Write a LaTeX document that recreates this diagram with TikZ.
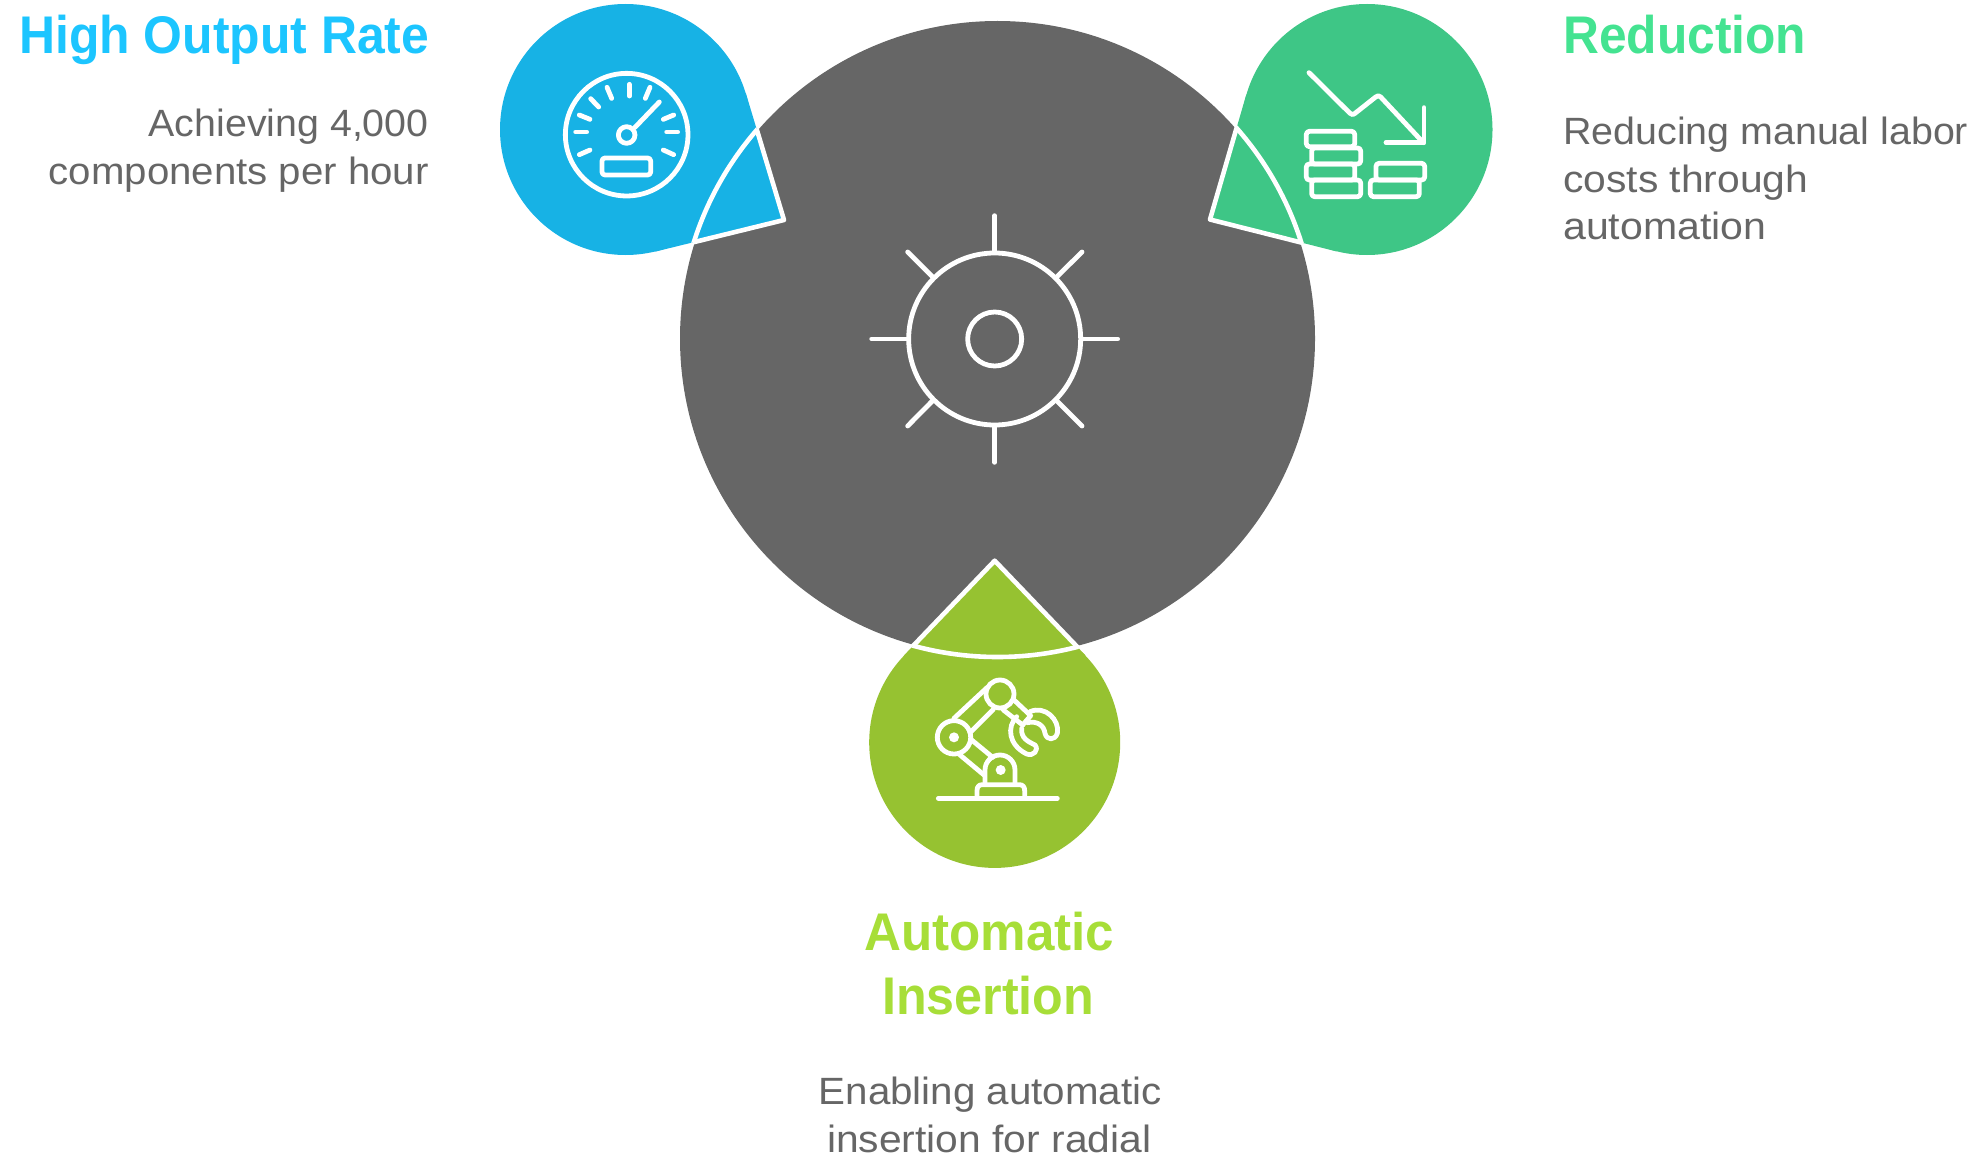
\documentclass[tikz,border=0pt]{standalone}
\usepackage{fontspec}
\usepackage{graphicx}
\setmainfont{Liberation Sans}
\usetikzlibrary{calc}
\definecolor{coreGray}{HTML}{666666}
\definecolor{fillBlue}{HTML}{17B2E5}
\definecolor{fillGreen}{HTML}{3EC686}
\definecolor{fillLime}{HTML}{96C231}
\definecolor{headBlue}{HTML}{1CC5FF}
\definecolor{headGreen}{HTML}{44E391}
\definecolor{headLime}{HTML}{A7DE38}
\newcommand{\fitw}[2]{\resizebox{#1pt}{\height}{#2}}
\tikzset{
  disc/.style={circle,inner sep=0pt,minimum size=251pt,draw=none},
  headtext/.style={anchor=base west,inner sep=0pt,font=\fontsize{53}{53}\selectfont\bfseries},
  bodytext/.style={anchor=base west,inner sep=0pt,text=coreGray,font=\fontsize{38}{38}\selectfont},
  gap/.style={draw=white,line width=4.6pt,line cap=round,line join=round},
  ico/.style={draw=white,line width=4.8pt,line cap=round,line join=round},
  zoomframe/.style={x=0.33333pt,y=-0.33333pt}
}
\begin{document}
\begin{tikzpicture}[x=1pt,y=-1pt]
\useasboundingbox (0,0) rectangle (1975,1161);
\coordinate (core) at (997.5,338.5);
\fill[coreGray] (core) circle[radius=317.5pt];

% teardrops
\node[disc,fill=fillBlue] (blueDisc) at (625.5,129.5) {};
\node[disc,fill=fillGreen] (greenDisc) at (1367,129.5) {};
\node[disc,fill=fillLime] (limeDisc) at (994.7,742.4) {};
\coordinate (blueTip) at (784,220);
\coordinate (greenTip) at (1210,219.5);
\coordinate (limeTip) at (994.7,560.7);
\foreach \d/\t/\c in {blueDisc/blueTip/fillBlue,greenDisc/greenTip/fillGreen,limeDisc/limeTip/fillLime}{
  \fill[\c] (\t) -- (tangent cs:node=\d,point={(\t)},solution=1) -- (\d.center) -- (tangent cs:node=\d,point={(\t)},solution=2) -- cycle;
  % white sides inside the core
  \begin{scope}
    \clip (core) circle[radius=319.5pt];
    \draw[gap] ($(tangent cs:node=\d,point={(\t)},solution=1)$) -- (\t) -- ($(tangent cs:node=\d,point={(\t)},solution=2)$);
  \end{scope}
  % white arc along the core edge
  \begin{scope}
    \clip (\t) -- ($(\t)!3!(tangent cs:node=\d,point={(\t)},solution=1)$) -- ($(\t)!3!(tangent cs:node=\d,point={(\t)},solution=2)$) -- cycle;
    \draw[draw=white,line width=4.6pt] (core) circle[radius=318.5pt];
  \end{scope}
}

% centre icon
\begin{scope}[shift={(850,200)},zoomframe]
  \draw[ico] (434,417) circle[radius=86pt];
  \draw[ico] (434,417) circle[radius=27pt];
  \foreach \a/\b/\p/\q in {434/47/434/155,434/680/434/787,65/417/175/417,695/417/803/417,173/156/250/233,696/156/618/233,173/678/250/600,696/678/618/600}
    \draw[ico] (\a,\b) -- (\p,\q);
\end{scope}

% gauge
\begin{scope}[shift={(480,0)},zoomframe]
  \draw[ico] (440,404) circle[radius=61.3pt];
  \foreach \a/\b/\p/\q in {287/396/320/396,298/464/330/450,298/345/330/358,332/296/356/321,381/262/395/295,448/253/448/288,510/262/496/295,581/345/550/358,560/396/593/396,550/450/581/464,538/306/465/382}
    \draw[ico] (\a,\b) -- (\p,\q);
  \draw[ico] (440,405) circle[radius=8.3pt];
  \draw[ico,rounded corners=3pt] (366,474) rectangle (512,525);
\end{scope}

% falling coins
\begin{scope}[shift={(1190,0)},zoomframe]
  \draw[ico] (357,218) -- (480,340) .. controls (487,346) and (490,344) .. (495,340) -- (557,291) .. controls (563,286) and (567,286) .. (572,291) -- (700,428);
  \draw[ico] (702,323) -- (702,428) -- (588,428);
  \draw[ico,rounded corners=3pt] (349,394) rectangle (494,440);
  \draw[ico,rounded corners=3pt] (365,444) rectangle (512,492);
  \draw[ico,rounded corners=3pt] (349,492) rectangle (494,540);
  \draw[ico,rounded corners=3pt] (365,540) rectangle (512,590);
  \draw[ico,rounded corners=3pt] (558,490) rectangle (704,540);
  \draw[ico,rounded corners=3pt] (541,540) rectangle (688,590);
\end{scope}

% robot arm
\begin{scope}[shift={(850,550)},zoomframe]
  \draw[ico] (450,432) circle[radius=14pt];
  \draw[ico] (312,562) circle[radius=16.7pt];
  \fill[white] (312,562) circle[radius=5pt];
  \fill[white] (452,660) circle[radius=5pt];
  \draw[ico] (405,700) -- (405,660) arc[start angle=180,end angle=0,radius=15pt] -- (495,700);
  \draw[ico] (381,745) -- (381,722) .. controls (381,710) and (387,704) .. (397,704) -- (508,704) .. controls (518,704) and (524,710) .. (524,722) -- (524,745);
  \draw[ico] (265,745) -- (622,745);
  \draw[ico] (312,505) -- (412,412);
  \draw[ico] (360,548) -- (430,478);
  \draw[ico] (365,570) -- (428,622);
  \draw[ico] (330,615) -- (402,675);
  \draw[ico] (492,450) -- (542,497) -- (518,525);
  \draw[ico] (460,480) -- (518,525);
  \draw[ico] (540,485) .. controls (585,465) and (630,510) .. (622,550) .. controls (615,572) and (590,572) .. (585,550) .. controls (582,525) and (560,512) .. (532,518);
  \draw[ico] (500,500) .. controls (470,530) and (475,585) .. (530,612) .. controls (550,620) and (568,600) .. (555,585) .. controls (535,575) and (512,565) .. (515,535);
\end{scope}

% texts
\node[headtext,text=headBlue] (headA) at (19,54) {\fitw{410}{High Output Rate}};
\node[bodytext] (bodyA1) at (148.5,137) {\fitw{280}{Achieving 4,000}};
\node[bodytext] (bodyA2) at (48.5,185) {\fitw{380}{components per hour}};
\node[headtext,text=headGreen] (headB) at (1563,54) {\fitw{243}{Reduction}};
\node[bodytext] (bodyB1) at (1563,145) {\fitw{405}{Reducing manual labor}};
\node[bodytext] (bodyB2) at (1563,193) {\fitw{245}{costs through}};
\node[bodytext] (bodyB3) at (1563,240) {\fitw{203}{automation}};
\node[headtext,text=headLime] (headC1) at (864,950) {\fitw{250}{Automatic}};
\node[headtext,text=headLime] (headC2) at (882,1014) {\fitw{212}{Insertion}};
\node[bodytext] (bodyC1) at (818.5,1104) {\fitw{343}{Enabling automatic}};
\node[bodytext] (bodyC2) at (827,1152) {\fitw{324}{insertion for radial}};
\end{tikzpicture}
\end{document}
